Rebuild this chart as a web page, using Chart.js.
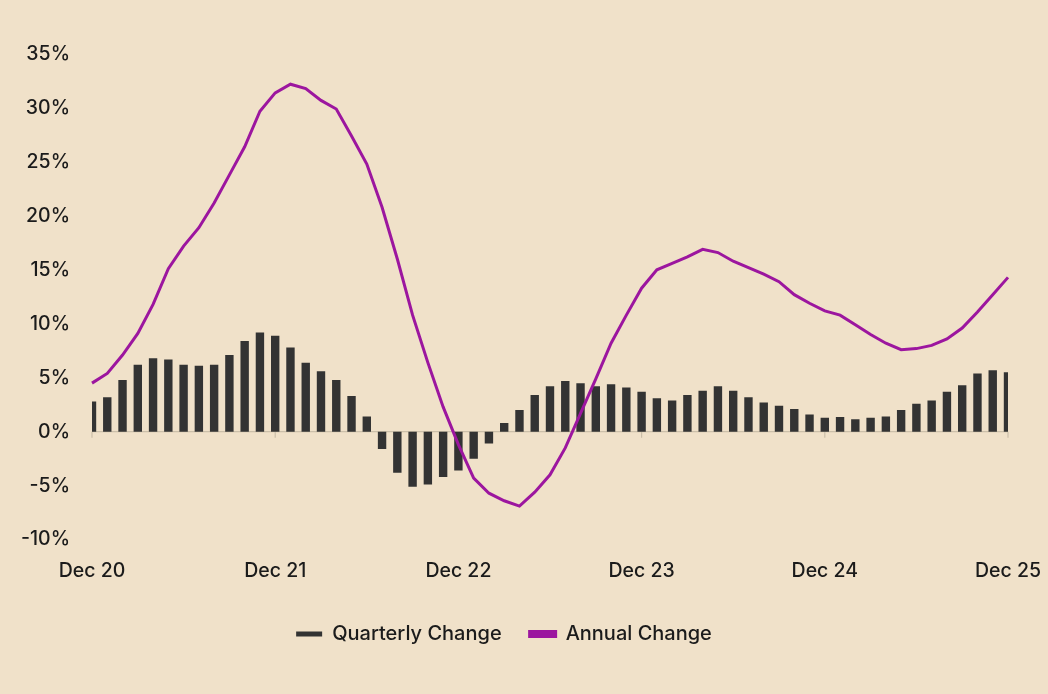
<!DOCTYPE html>
<html lang="en">
<head>
<meta charset="UTF-8">
<script src="https://cdn.jsdelivr.net/npm/chart.js"></script>
<title>Quarterly and Annual Change</title>
<style>
  html, body { margin: 0; padding: 0; background: #f0e1c9; }
  #wrap { width: 1048px; height: 694px; }
</style>
</head>
<body>
<div id="wrap"><canvas id="chart" width="1048" height="694"></canvas></div>
<script>
// months from Dec 20 to Dec 25
const monthNames = ['Jan','Feb','Mar','Apr','May','Jun','Jul','Aug','Sep','Oct','Nov','Dec'];
const months = ['Dec 20'];
for (let y = 21; y <= 25; y++) {
    for (const m of monthNames) months.push(m + ' ' + y);
}

const quarterlyChange = [
    2.8, 3.2, 4.8, 6.2, 6.8, 6.7, 6.2, 6.1, 6.2, 7.1, 8.4, 9.2,
    8.9, 7.8, 6.4, 5.6, 4.8, 3.3, 1.4, -1.6, -3.8, -5.1, -4.9, -4.2,
    -3.6, -2.5, -1.1, 0.8, 2.0, 3.4, 4.2, 4.7, 4.5, 4.2, 4.4, 4.1,
    3.7, 3.1, 2.9, 3.4, 3.8, 4.2, 3.8, 3.2, 2.7, 2.4, 2.1, 1.6,
    1.3, 1.35, 1.15, 1.3, 1.4, 2.0, 2.6, 2.9, 3.7, 4.3, 5.4, 5.7,
    5.5
];

const annualChange = [
    4.5, 5.4, 7.1, 9.1, 11.8, 15.1, 17.2, 18.9, 21.2, 23.8, 26.4, 29.7,
    31.4, 32.2, 31.8, 30.7, 29.9, 27.4, 24.8, 20.8, 16.0, 10.8, 6.4, 2.3,
    -1.2, -4.3, -5.7, -6.4, -6.9, -5.6, -4.0, -1.5, 1.7, 4.9, 8.2, 10.8,
    13.3, 15.0, 15.6, 16.2, 16.9, 16.6, 15.8, 15.2, 14.6, 13.9, 12.7, 11.9,
    11.2, 10.8, 9.9, 9.0, 8.2, 7.6, 7.7, 8.0, 8.6, 9.6, 11.1, 12.7,
    14.3
];

const yMin = -10, yMax = 35, yStep = 5;

const textColor = '#1b1b1b';
const barColor = '#333333';
const lineColor = '#9c169f';
const fontFamily = 'Inter, "Liberation Sans", Arial, sans-serif';

// zero line and small year ticks under it
const zeroLine = {
    id: 'zeroLine',
    beforeDatasetsDraw(chart) {
        const { ctx, chartArea, scales } = chart;
        const y0 = scales.y.getPixelForValue(0);
        ctx.save();
        ctx.strokeStyle = '#cbbfa9';
        ctx.lineWidth = 1.2;
        ctx.beginPath();
        ctx.moveTo(chartArea.left, y0);
        ctx.lineTo(chartArea.right, y0);
        months.forEach((m, i) => {
            if (m.startsWith('Dec')) {
                const x = scales.x.getPixelForValue(i);
                ctx.moveTo(x, y0);
                ctx.lineTo(x, y0 + 6);
            }
        });
        ctx.stroke();
        ctx.restore();
    }
};

new Chart(document.getElementById('chart'), {
    type: 'bar',
    data: {
        labels: months,
        datasets: [
            {
                type: 'line',
                label: 'Annual Change',
                data: annualChange,
                borderColor: lineColor,
                backgroundColor: lineColor,
                borderWidth: 3,
                pointRadius: 0,
                tension: 0,
                order: 0
            },
            {
                label: 'Quarterly Change',
                data: quarterlyChange,
                backgroundColor: barColor,
                borderWidth: 0,
                barPercentage: 0.55,
                categoryPercentage: 1,
                order: 1
            }
        ]
    },
    options: {
        responsive: false,
        animation: false,
        layout: { padding: { top: 54, left: 0, right: 40, bottom: 40 } },
        plugins: {
            tooltip: { enabled: false },
            legend: {
                position: 'bottom',
                reverse: true,
                labels: {
                    boxWidth: 26,
                    boxHeight: 5,
                    padding: 28,
                    color: textColor,
                    font: { family: fontFamily, size: 20, weight: '500' }
                }
            }
        },
        scales: {
            x: {
                offset: false,
                afterFit: scale => {
                    scale.paddingLeft = 0;
                    scale.paddingRight = 0;
                    scale.height -= 7;
                },
                grid: { display: false, drawTicks: false },
                border: { display: false },
                ticks: {
                    autoSkip: false,
                    maxRotation: 0,
                    padding: 20,
                    color: textColor,
                    font: { family: fontFamily, size: 19.5, weight: '500' },
                    callback: function (v, i) {
                        return months[i].startsWith('Dec') ? months[i] : '';
                    }
                }
            },
            y: {
                min: yMin,
                max: yMax,
                afterFit: scale => { scale.width = 92; },
                grid: { display: false, drawTicks: false },
                border: { display: false },
                ticks: {
                    stepSize: yStep,
                    padding: 22,
                    color: textColor,
                    font: { family: fontFamily, size: 19.5, weight: '500' },
                    callback: v => v + '%'
                }
            }
        }
    },
    plugins: [zeroLine]
});
</script>
</body>
</html>
